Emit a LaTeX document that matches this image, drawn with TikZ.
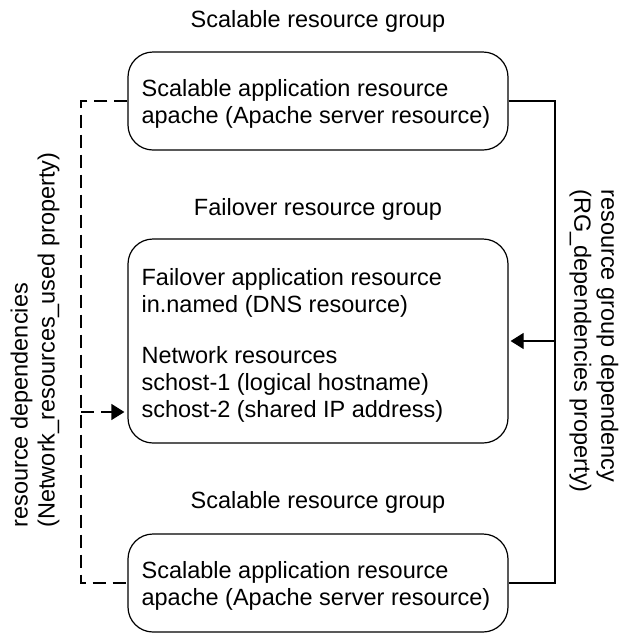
\documentclass[tikz,border=0pt]{standalone}
\usepackage{fontspec}
\setmainfont{Liberation Sans}
\usetikzlibrary{arrows.meta}
\begin{document}
\begin{tikzpicture}[x=1pt,y=-1pt,
  font=\fontsize{23.5}{27}\selectfont,
  line width=1.2pt,
  box/.style={draw, rounded corners=25pt, minimum width=380pt, inner sep=0pt},
  txt/.style={inner sep=0pt, align=left, anchor=north west},
  title/.style={inner sep=0pt, anchor=base},
  tip/.style={-{Triangle[length=13pt,width=16pt]}},
  dep/.style={dash pattern=on 13pt off 7pt},
]
\useasboundingbox (0,0) rectangle (621,633);

% titles
\node[title] (t1) at (318,27) {Scalable resource group};
\node[title] (t2) at (318,215) {Failover resource group};
\node[title] (t3) at (318,508) {Scalable resource group};

% boxes
\node[box, minimum height=98pt] (top) at (318,101) {};
\node[box, minimum height=204pt] (mid) at (318,341) {};
\node[box, minimum height=98pt] (bot) at (318,583) {};

% box texts
\node[txt] (toptxt) at (141,79) {Scalable application resource\\apache (Apache server resource)};
\node[txt] (midtxt) at (141,268) {Failover application resource\\in.named (DNS resource)\\[24pt]Network resources\\schost-1 (logical hostname)\\schost-2 (shared IP address)};
\node[txt] (bottxt) at (141,561) {Scalable application resource\\apache (Apache server resource)};

% right connector
\coordinate (rx) at (555,0);
\draw (top.east) -- (top.east -| rx) -- (bot.east -| rx) -- (bot.east);
\draw[tip, shorten >=2pt] (mid.east -| rx) -- (mid.east);

% left connector
\coordinate (lx) at (81,0);
\coordinate (la) at (81,412);
\draw[dep] (top.west) -- (top.west -| lx) -- (bot.west -| lx) -- (bot.west);
\draw[dep, tip, shorten >=3pt] (la) -- (la -| mid.west);

% side labels
\node[txt, rotate=90] (llab) at (10,528) {resource dependencies\\(Network\_resources\_used property)};
\node[txt, rotate=-90] (rlab) at (619,189) {resource group dependency\\(RG\_dependencies property)};
\end{tikzpicture}
\end{document}
